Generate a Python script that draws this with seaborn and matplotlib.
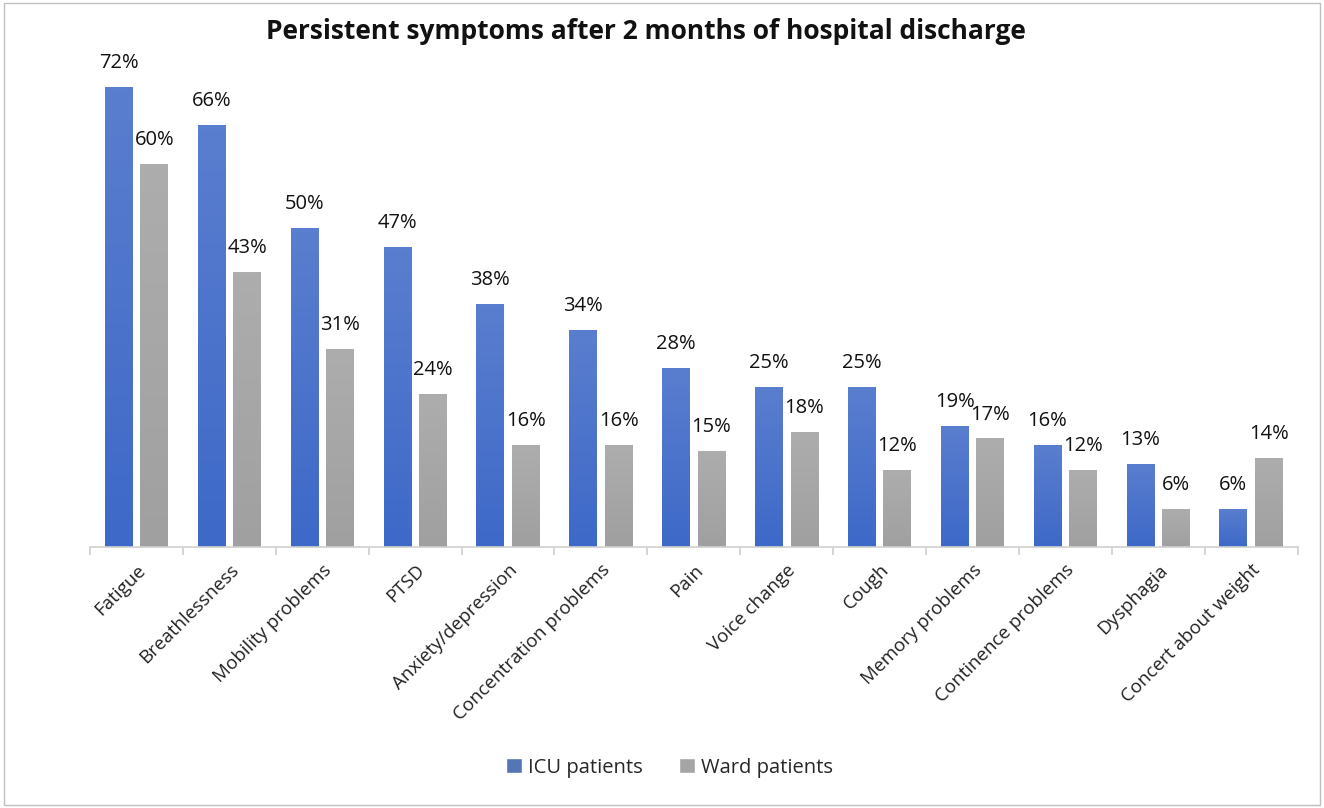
import numpy as np
import pandas as pd
import matplotlib.pyplot as plt
import matplotlib.colors as mcolors
from matplotlib.patches import Rectangle
import seaborn as sns

# datos
sintomas = ['Fatigue', 'Breathlessness', 'Mobility problems', 'PTSD', 'Anxiety/depression',
            'Concentration problems', 'Pain', 'Voice change', 'Cough', 'Memory problems',
            'Continence problems', 'Dysphagia', 'Concert about weight']
icu = [72, 66, 50, 47, 38, 34, 28, 25, 25, 19, 16, 13, 6]
ward = [60, 43, 31, 24, 16, 16, 15, 18, 12, 17, 12, 6, 14]
grupos = ['ICU patients', 'Ward patients']

df = pd.DataFrame({
    'Symptom': sintomas * 2,
    'Percent': icu + ward,
    'Group': [grupos[0]] * len(sintomas) + [grupos[1]] * len(sintomas),
})

sns.set_style('white')
plt.rcParams['font.family'] = ['Open Sans', 'DejaVu Sans']

colores = {'ICU patients': '#4472C4', 'Ward patients': '#A5A5A5'}
grad = {'ICU patients': ('#3E69C8', '#5A7ECF'), 'Ward patients': ('#A0A0A0', '#ADADAD')}

fig = plt.figure(figsize=(13.24, 8.08), dpi=100)
ax = fig.add_axes([0.068, 0.323, 0.912, 0.601])

sns.barplot(data=df, x='Symptom', y='Percent', hue='Group', palette=colores,
            width=0.765, gap=0.22, ax=ax, legend=True)

# degradado vertical suave en cada barra
for cont, g in zip(ax.containers, grupos):
    cmap = mcolors.LinearSegmentedColormap.from_list(g, grad[g])
    for p in cont.patches:
        x0, y0 = p.get_x(), p.get_y()
        w, h = p.get_width(), p.get_height()
        img = ax.imshow(np.linspace(0, 1, 64).reshape(-1, 1), cmap=cmap, aspect='auto',
                        origin='lower', extent=[x0, x0 + w, y0, y0 + h], zorder=p.get_zorder())
        img.set_clip_path(p)
    ax.bar_label(cont, labels=[f'{int(v)}%' for v in cont.datavalues], padding=10,
                 fontsize=14.5, color='#111111')

ax.set_xlim(-0.5, len(sintomas) - 0.5)
ax.set_ylim(0, 76)

for s in ['top', 'right', 'left']:
    ax.spines[s].set_visible(False)
ax.spines['bottom'].set_color('#D0D0D0')
ax.spines['bottom'].set_linewidth(1.2)
ax.set_yticks([])
ax.set_xlabel('')
ax.set_ylabel('')

ax.set_xticks(range(len(sintomas)))
ax.set_xticklabels(sintomas, rotation=45, ha='right', rotation_mode='anchor', fontsize=13.5,
                   color='#222222')
ax.set_xticks(np.arange(-0.5, len(sintomas), 1), minor=True)
ax.tick_params(axis='x', which='both', bottom=True)
ax.tick_params(axis='x', which='major', length=0, pad=10)
ax.tick_params(axis='x', which='minor', length=6, color='#D0D0D0', width=1.2)

ax.set_title('Persistent symptoms after 2 months of hospital discharge', fontsize=19,
             fontweight='bold', pad=16, color='#111111', x=0.46)

ax.legend(loc='center', bbox_to_anchor=(0.48, (0.05 - 0.323) / 0.601), bbox_transform=ax.transAxes,
          ncol=2, frameon=False, fontsize=14.5, handlelength=0.8, handleheight=0.8,
          handletextpad=0.3, columnspacing=1.8)

fig.patches.append(Rectangle((0.003, 0.004), 0.994, 0.992, transform=fig.transFigure,
                             fill=False, edgecolor='#BFBFBF', linewidth=1))

fig.savefig('out.png', dpi=100)
